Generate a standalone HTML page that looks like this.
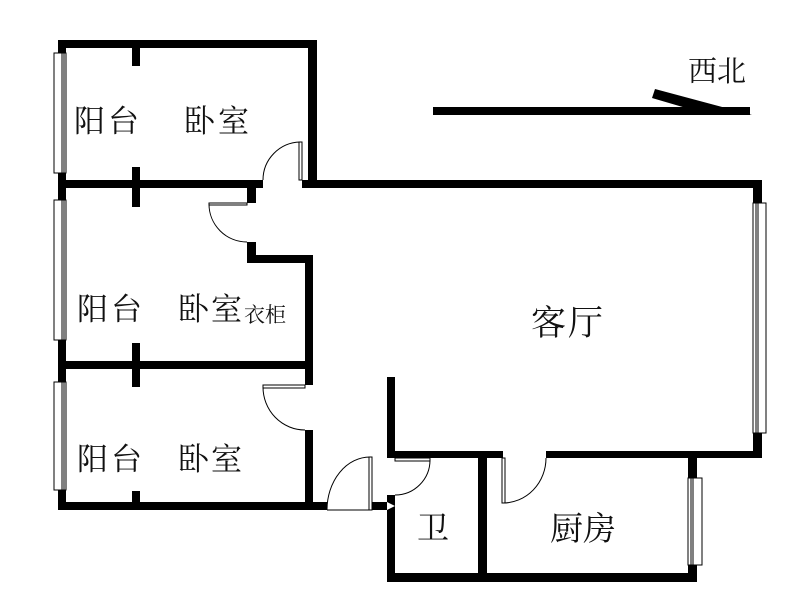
<!DOCTYPE html>
<html><head><meta charset="utf-8"><style>
html,body{margin:0;padding:0;background:#fff;}
svg{display:block;}
text{font-family:"Liberation Serif","Noto Serif CJK SC","Noto Sans CJK SC",serif;fill:#111;}
</style></head><body>
<svg width="800" height="597" viewBox="0 0 800 597" xmlns="http://www.w3.org/2000/svg">
<g fill="#000">
<rect x="58" y="40" width="259" height="8"/>
<rect x="308" y="40" width="9" height="148"/>
<rect x="58" y="40" width="8" height="13"/>
<rect x="58" y="173" width="8" height="27"/>
<rect x="132" y="48" width="8" height="18"/>
<rect x="58" y="180" width="205" height="8"/>
<rect x="132" y="167" width="8" height="40"/>
<rect x="302" y="180" width="460" height="8"/>
<rect x="247" y="188" width="9" height="15"/>
<rect x="247" y="242" width="9" height="21"/>
<rect x="247" y="255" width="66" height="8"/>
<rect x="305" y="255" width="8" height="130"/>
<rect x="58" y="340" width="8" height="42"/>
<rect x="58" y="361" width="255" height="8"/>
<rect x="132" y="343" width="8" height="44"/>
<rect x="305" y="430" width="8" height="80"/>
<rect x="58" y="490" width="8" height="20"/>
<rect x="58" y="502" width="269" height="8"/>
<rect x="132" y="491" width="8" height="11"/>
<rect x="372" y="502" width="15" height="8"/>
<rect x="753" y="180" width="9" height="23"/>
<rect x="753" y="433" width="9" height="25"/>
<rect x="387" y="377" width="8" height="81"/>
<rect x="387" y="451" width="116" height="7"/>
<rect x="546" y="451" width="216" height="7"/>
<rect x="387" y="495" width="8" height="87"/>
<rect x="478" y="458" width="9" height="120"/>
<rect x="387" y="573" width="310" height="9"/>
<rect x="688" y="451" width="9" height="27"/>
<rect x="688" y="565" width="9" height="17"/>
<rect x="433" y="107" width="317" height="8"/>
<polygon points="655,89 752,115 710,115 652,98"/>
</g>
<polygon points="387,502 395,506 387,510" fill="#fff"/>
<g fill="#fff" stroke="#000" stroke-width="1">
<rect x="54" y="53" width="12" height="120"/><line x1="62" y1="53" x2="62" y2="173"/><line x1="64" y1="53" x2="64" y2="173"/>
<rect x="54" y="200" width="12" height="140"/><line x1="62" y1="200" x2="62" y2="340"/><line x1="64" y1="200" x2="64" y2="340"/>
<rect x="54" y="382" width="12" height="108"/><line x1="62" y1="382" x2="62" y2="490"/><line x1="64" y1="382" x2="64" y2="490"/>
<rect x="753" y="203" width="13" height="230"/><line x1="756" y1="203" x2="756" y2="433"/><line x1="758" y1="203" x2="758" y2="433"/>
<rect x="688" y="478" width="14" height="87"/><line x1="691" y1="478" x2="691" y2="565"/><line x1="693" y1="478" x2="693" y2="565"/>
</g>
<g fill="none" stroke="#000" stroke-width="1">
<rect x="299" y="142" width="3" height="38"/><path d="M300,142 A38,38 0 0 0 263,180"/>
<rect x="209" y="203" width="38" height="2"/><path d="M209,204 A38,38 0 0 0 247,242"/>
<rect x="263" y="385" width="42" height="3"/><path d="M263,387 A42,43 0 0 0 305,430"/>
<rect x="369" y="457" width="3" height="53"/><path d="M370,457 A43,53 0 0 0 327,510"/><line x1="327" y1="510" x2="372" y2="510"/>
<rect x="395" y="458" width="35" height="3"/><path d="M430,460 A35,35 0 0 1 395,495"/>
<rect x="502" y="458" width="3" height="45"/><path d="M503,503 A43,45 0 0 0 546,458"/>
</g>
<text x="74" y="132" font-size="31" letter-spacing="3">阳台</text>
<text x="184" y="132" font-size="31" letter-spacing="3">卧室</text>
<text x="77" y="320" font-size="31" letter-spacing="3">阳台</text>
<text x="178" y="320" font-size="31" letter-spacing="2">卧室</text>
<text x="244" y="322" font-size="21">衣柜</text>
<text x="77" y="470" font-size="31" letter-spacing="3">阳台</text>
<text x="178" y="470" font-size="31" letter-spacing="2">卧室</text>
<text x="531" y="335" font-size="35" letter-spacing="2">客厅</text>
<text x="417" y="539" font-size="32">卫</text>
<text x="550" y="540" font-size="33">厨房</text>
<text x="688" y="81" font-size="29">西北</text>
</svg>
</body></html>
